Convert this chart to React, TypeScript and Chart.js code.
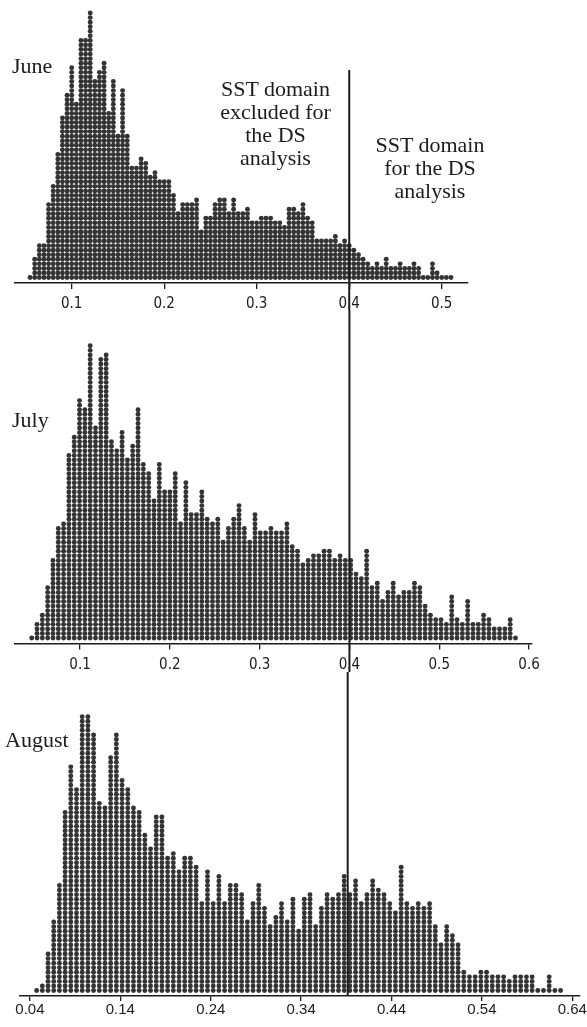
import { useEffect, useRef } from 'react';
import { Chart, registerables } from 'chart.js';

Chart.register(...registerables);

// ---------- DATA ----------
// June: dot counts per bin (bin centres start at JUNE_START, step JUNE_BIN)
const JUNE_START = 0.055;
const JUNE_BIN = 0.005;
const JUNE_COUNTS = [
  1, 5, 8, 8, 17, 21, 28, 36, 41, 47,
  39, 53, 53, 59, 44, 46, 48, 37, 44, 32,
  42, 32, 25, 25, 27, 26, 23, 24, 22, 22,
  22, 19, 15, 17, 17, 17, 18, 11, 14, 14,
  17, 18, 18, 15, 18, 15, 15, 16, 13, 13,
  14, 14, 14, 13, 13, 12, 16, 16, 15, 17,
  14, 13, 9, 9, 9, 9, 10, 8, 9, 8,
  7, 6, 5, 4, 3, 4, 3, 5, 3, 3,
  4, 3, 3, 4, 3, 1, 1, 4, 2, 1,
  1, 1,
];
const JUNE_TICKS = [0.1, 0.2, 0.3, 0.4, 0.5];
const JUNE_TICK_LABELS = ['0.1', '0.2', '0.3', '0.4', '0.5'];

// July
const JULY_START = 0.0462;
const JULY_BIN = 0.00592;
const JULY_COUNTS = [
  1, 4, 6, 12, 18, 25, 26, 41, 45, 53,
  51, 65, 47, 62, 63, 44, 42, 46, 40, 43,
  51, 39, 37, 31, 39, 33, 33, 37, 26, 35,
  28, 28, 33, 27, 26, 27, 22, 25, 27, 30,
  25, 22, 28, 24, 24, 25, 24, 24, 26, 21,
  20, 17, 18, 19, 19, 20, 20, 18, 19, 18,
  18, 15, 14, 20, 12, 13, 9, 11, 13, 10,
  11, 11, 13, 12, 8, 6, 5, 5, 4, 10,
  5, 4, 9, 4, 4, 6, 5, 3, 3, 3,
  5, 1,
];
const JULY_TICKS = [0.1, 0.2, 0.3, 0.4, 0.5, 0.6];
const JULY_TICK_LABELS = ['0.1', '0.2', '0.3', '0.4', '0.5', '0.6'];

// August
const AUGUST_START = 0.0474;
const AUGUST_BIN = 0.0063;
const AUGUST_COUNTS = [
  1, 2, 9, 16, 24, 40, 50, 45, 61, 61,
  57, 42, 41, 52, 57, 47, 45, 41, 40, 35,
  32, 39, 39, 30, 31, 27, 30, 30, 28, 20,
  27, 20, 26, 20, 24, 24, 22, 16, 20, 24,
  19, 15, 17, 20, 16, 21, 14, 21, 22, 15,
  19, 22, 21, 22, 26, 22, 25, 20, 22, 25,
  23, 22, 20, 18, 28, 20, 19, 20, 19, 20,
  15, 11, 15, 13, 11, 5, 4, 4, 5, 5,
  4, 4, 4, 3, 4, 4, 4, 4, 1, 1,
  4, 1, 1,
];
const AUGUST_TICKS = [0.04, 0.14, 0.24, 0.34, 0.44, 0.54, 0.64];
const AUGUST_TICK_LABELS = ['0.04', '0.14', '0.24', '0.34', '0.44', '0.54', '0.64'];

// DS threshold line (value on each panel's axis)
const DS_SPLIT_JUNE = 0.4;
const DS_SPLIT_JULY = 0.4;
const DS_SPLIT_AUGUST = 0.3915;

// ---------- STYLE / LAYOUT ----------
const W = 587;
const DOT_PITCH = 4.6;
const DOT_RADIUS = 2.45;
const DOT_COLOR = '#333333';
const INK = '#1c1c1c';
const SERIF = '"Liberation Serif", "Times New Roman", serif';
const NARROW = '"Liberation Sans Narrow", "Arial Narrow", "DejaVu Sans Condensed", sans-serif';
const SANS = '"Liberation Sans", Arial, sans-serif';

type PanelSpec = {
  top: number; height: number; axisY: number;
  left: number; right: number; xMin: number; xMax: number;
  start: number; bin: number; counts: number[];
  ticks: number[]; tickLabels: string[];
  font: string; fontSize: number; tickLen: number; labelPad: number;
  split: number; lineTop: number; lineToAxis: boolean;
};

const PANELS: PanelSpec[] = [
  {
    top: 0, height: 310, axisY: 283, left: 15, right: 468, xMin: 0.0387, xMax: 0.5284,
    start: JUNE_START, bin: JUNE_BIN, counts: JUNE_COUNTS,
    ticks: JUNE_TICKS, tickLabels: JUNE_TICK_LABELS,
    font: NARROW, fontSize: 15, tickLen: 6, labelPad: 6,
    split: DS_SPLIT_JUNE, lineTop: 70, lineToAxis: false,
  },
  {
    top: 310, height: 362, axisY: 643.5, left: 15, right: 532, xMin: 0.0276, xMax: 0.6033,
    start: JULY_START, bin: JULY_BIN, counts: JULY_COUNTS,
    ticks: JULY_TICKS, tickLabels: JULY_TICK_LABELS,
    font: NARROW, fontSize: 15, tickLen: 6, labelPad: 7,
    split: DS_SPLIT_JULY, lineTop: 0, lineToAxis: false,
  },
  {
    top: 672, height: 355, axisY: 996, left: 20, right: 582, xMin: 0.029, xMax: 0.6477,
    start: AUGUST_START, bin: AUGUST_BIN, counts: AUGUST_COUNTS,
    ticks: AUGUST_TICKS, tickLabels: AUGUST_TICK_LABELS,
    font: SANS, fontSize: 15, tickLen: 5, labelPad: 0,
    split: DS_SPLIT_AUGUST, lineTop: 0, lineToAxis: true,
  },
];

const splitLinePlugin = {
  id: 'splitLine',
  afterDraw(chart: any, _args: any, opts: any) {
    const ctx = chart.ctx;
    const x = chart.scales.x.getPixelForValue(opts.value);
    const bottom = opts.toAxis ? chart.chartArea.bottom : chart.height;
    ctx.save();
    ctx.strokeStyle = INK;
    ctx.lineWidth = 2;
    ctx.beginPath();
    ctx.moveTo(x, opts.top);
    ctx.lineTo(x, bottom);
    ctx.stroke();
    ctx.restore();
  },
};

function buildPoints(start: number, bin: number, counts: number[]) {
  const pts: { x: number; y: number }[] = [];
  counts.forEach((c, i) => {
    const x = start + i * bin;
    for (let k = 1; k <= c; k++) pts.push({ x, y: k });
  });
  return pts;
}

function Panel({ spec }: { spec: PanelSpec }) {
  const ref = useRef<HTMLCanvasElement | null>(null);
  useEffect(() => {
    if (!ref.current) return;
    const areaH = spec.axisY - spec.top;
    const yMin = 1 - 5.5 / DOT_PITCH;
    const chart = new Chart(ref.current, {
      type: 'scatter',
      data: {
        datasets: [
          {
            data: buildPoints(spec.start, spec.bin, spec.counts),
            pointRadius: DOT_RADIUS,
            pointHoverRadius: DOT_RADIUS,
            pointBorderWidth: 0,
            pointBackgroundColor: DOT_COLOR,
            backgroundColor: DOT_COLOR,
          },
        ],
      },
      options: {
        responsive: false,
        animation: false,
        events: [],
        layout: { padding: { left: spec.left, right: W - spec.right, top: 0, bottom: 0 } },
        plugins: {
          legend: { display: false },
          tooltip: { enabled: false },
          splitLine: { value: spec.split, top: spec.lineTop, toAxis: spec.lineToAxis },
        } as any,
        scales: {
          x: {
            type: 'linear',
            min: spec.xMin,
            max: spec.xMax,
            afterBuildTicks: (scale: any) => {
              scale.ticks = spec.ticks.map((v) => ({ value: v }));
            },
            afterFit: (scale: any) => {
              scale.height = spec.height - areaH;
            },
            ticks: {
              autoSkip: false,
              maxRotation: 0,
              minRotation: 0,
              padding: spec.labelPad,
              color: INK,
              font: { family: spec.font, size: spec.fontSize },
              callback: (_v: any, i: number) => spec.tickLabels[i],
            },
            grid: {
              display: true,
              drawOnChartArea: false,
              drawTicks: true,
              tickLength: spec.tickLen,
              color: INK,
              lineWidth: 1.3,
            },
            border: { display: true, color: INK, width: 1.6 },
          },
          y: {
            display: false,
            min: yMin,
            max: yMin + areaH / DOT_PITCH,
          },
        },
      } as any,
      plugins: [splitLinePlugin as any],
    });
    return () => chart.destroy();
  }, [spec]);
  return (
    <canvas
      ref={ref}
      width={W}
      height={spec.height}
      style={{ position: 'absolute', left: 0, top: spec.top, width: W, height: spec.height, display: 'block' }}
    />
  );
}

const textBase: React.CSSProperties = {
  position: 'absolute',
  fontFamily: SERIF,
  fontSize: 22,
  color: INK,
  whiteSpace: 'nowrap',
  lineHeight: '22px',
};

export default function App() {
  return (
    <div
      style={{
        position: 'absolute',
        left: 0,
        top: 0,
        width: W,
        height: 1027,
        overflow: 'hidden',
        background: '#ffffff',
      }}
    >
      {PANELS.map((p, i) => (
        <Panel key={i} spec={p} />
      ))}
      <div style={{ ...textBase, left: 12, top: 55 }}>June</div>
      <div style={{ ...textBase, left: 12, top: 409 }}>July</div>
      <div style={{ ...textBase, left: 5, top: 729 }}>August</div>
      <div
        style={{
          ...textBase,
          left: 175.5,
          width: 200,
          top: 77,
          textAlign: 'center',
          lineHeight: '23px',
        }}
      >
        SST domain
        <br />
        excluded for
        <br />
        the DS
        <br />
        analysis
      </div>
      <div
        style={{
          ...textBase,
          left: 330,
          width: 200,
          top: 133,
          textAlign: 'center',
          lineHeight: '23px',
        }}
      >
        SST domain
        <br />
        for the DS
        <br />
        analysis
      </div>
    </div>
  );
}
